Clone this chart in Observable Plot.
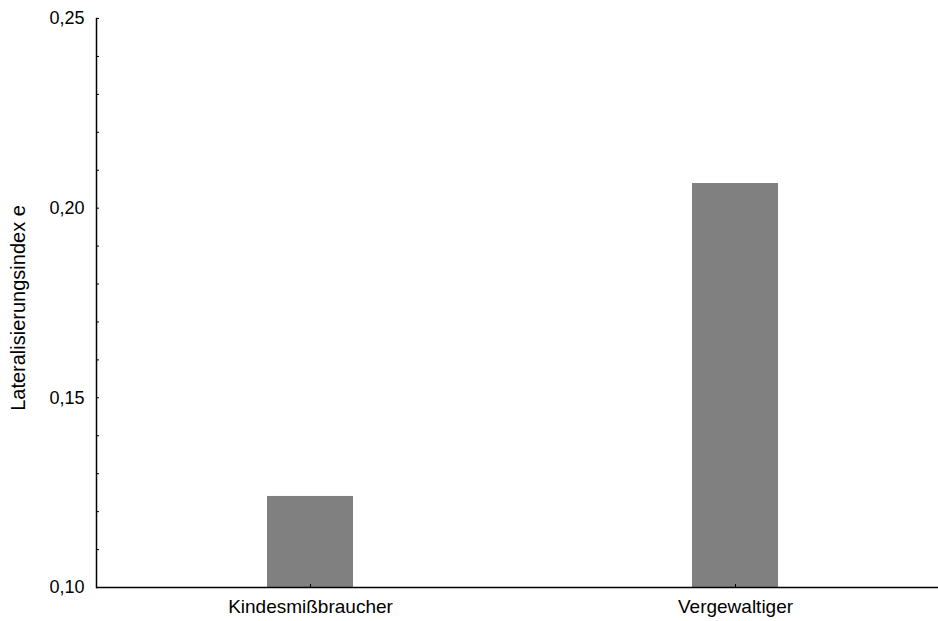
<!DOCTYPE html>
<html>
<head>
<meta charset="utf-8">
<script src="https://cdn.jsdelivr.net/npm/d3@7"></script>
<script src="https://cdn.jsdelivr.net/npm/@observablehq/plot@0.6"></script>
<style>
  html, body { margin: 0; padding: 0; background: #fff; }
</style>
</head>
<body>
<div id="chart"></div>
<script>
const categories = ["Kindesmißbraucher", "Vergewaltiger"];
const values = [0.124, 0.2065];
const yDomain = [0.10, 0.25];
const majorTicks = [0.10, 0.15, 0.20, 0.25];
const minorTicks = [0.11, 0.12, 0.13, 0.14, 0.16, 0.17, 0.18, 0.19, 0.21, 0.22, 0.23, 0.24];
const yLabel = "Lateralisierungsindex e";

const data = categories.map((c, i) => ({category: c, value: values[i]}));
const fmt = d => d.toFixed(2).replace(".", ",");

const chart = Plot.plot({
  width: 938,
  height: 621,
  marginLeft: 96,
  marginTop: 18,
  marginBottom: 34,
  marginRight: 0,
  style: {fontFamily: "'Liberation Sans', Arial, sans-serif", fontSize: "16px", color: "#000", background: "#fff"},
  x: {domain: categories, paddingInner: 0.798, paddingOuter: 0.3755, insetLeft: 11},
  y: {domain: yDomain},
  marks: [
    Plot.barY(data, {x: "category", y1: yDomain[0], y2: "value", fill: "#808080"}),
    Plot.axisY(minorTicks, {tickSize: -3, text: null, strokeWidth: 1, label: null}),
    Plot.axisY(majorTicks, {tickSize: -3, tickPadding: 15, tickFormat: fmt, fill: "#000", fontSize: 18, strokeWidth: 1,
      label: null}),
    Plot.text([yLabel], {text: d => d, frameAnchor: "left", textAnchor: "middle", lineAnchor: "middle", rotate: -90, dx: -78, dy: 5, fontSize: 20, fill: "#000"}),
    Plot.axisX({tickSize: -3, tickPadding: 15, fill: "#000", fontSize: 19, label: null}),
    Plot.frame({anchor: "left", stroke: "#000", strokeWidth: 1.5}),
    Plot.ruleY([yDomain[0]], {stroke: "#000", strokeWidth: 1.5})
  ]
});
document.getElementById("chart").appendChild(chart);
</script>
</body>
</html>
